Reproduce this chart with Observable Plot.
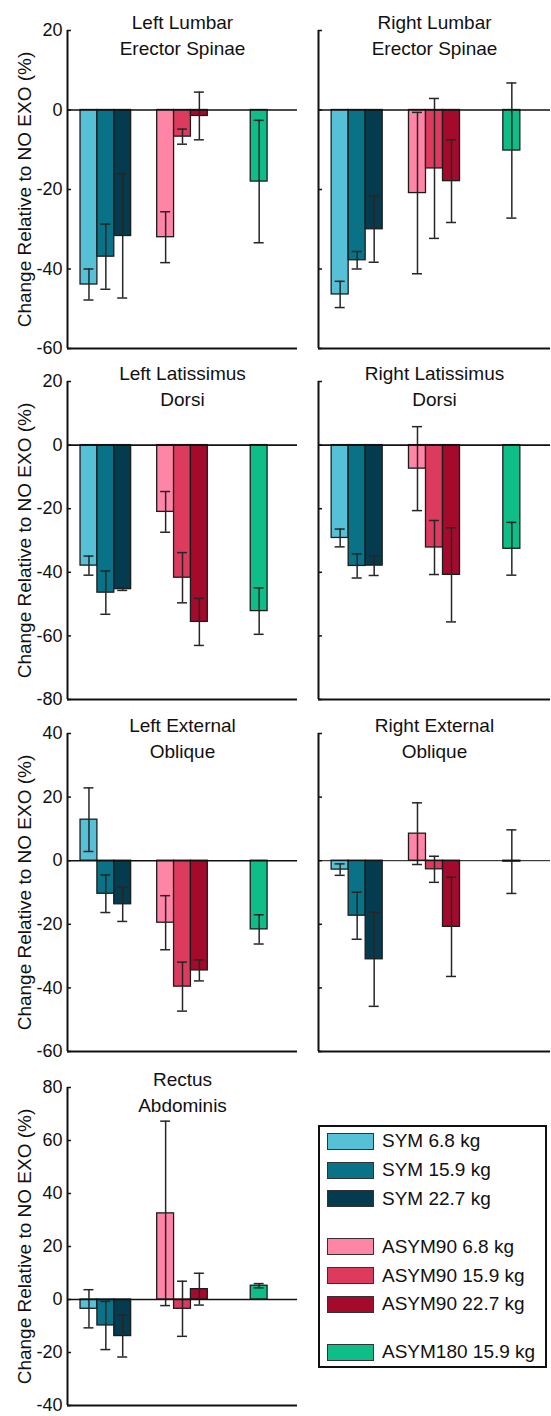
<!DOCTYPE html>
<html>
<head>
<meta charset="utf-8">
<script src="https://cdn.jsdelivr.net/npm/d3@7"></script>
<script src="https://cdn.jsdelivr.net/npm/@observablehq/plot@0.6"></script>
<style>
  body { margin: 0; background: #fff; }
  #fig { position: relative; width: 551px; height: 1416px; overflow: hidden;
         font-family: "Liberation Sans", Arial, sans-serif; color: #111; }
  .panel { position: absolute; }
  #legend { position: absolute; left: 318px; top: 1125px; width: 229px; height: 243px;
            box-sizing: border-box; border: 2px solid #111; padding: 0 0 0 7px; }
  .row { display: flex; align-items: center; height: 28.8px; font-size: 19px; white-space: nowrap; }
  .row.gap { margin-top: 19px; }
  .sw { width: 47px; height: 17px; box-sizing: border-box; border: 1.5px solid #333; margin-right: 8px; flex: none; }
</style>
</head>
<body>
<div id="fig"></div>
<script>
// Exoskeleton conditions (bar order within each muscle panel)
const conditions = ["SYM 6.8 kg", "SYM 15.9 kg", "SYM 22.7 kg",
                    "ASYM90 6.8 kg", "ASYM90 15.9 kg", "ASYM90 22.7 kg",
                    "ASYM180 15.9 kg"];
const conditionGroup = [1, 1, 1, 2, 2, 2, 3];      // lift type cluster
const conditionSlot  = [-1, 0, 1, -1, 0, 1, 0];    // position within cluster
const conditionColors = ["#56c0d6", "#0a7286", "#053b4f",
                         "#ff85a6", "#dc3b5e", "#a40a2c",
                         "#0ebd88"];

// Muscle panels
const muscles = ["Left Lumbar\nErector Spinae", "Right Lumbar\nErector Spinae",
                 "Left Latissimus\nDorsi", "Right Latissimus\nDorsi",
                 "Left External\nOblique", "Right External\nOblique",
                 "Rectus\nAbdominis"];
const yDomains = [[-60, 20], [-60, 20], [-80, 20], [-80, 20], [-60, 40], [-60, 40], [-40, 80]];

// Mean change relative to NO EXO (%) and error (±) per condition
const leftLumbarMean   = [-43.9, -36.9, -31.7, -32.0, -6.7, -1.5, -18.0];
const leftLumbarErr    = [3.9, 8.2, 15.6, 6.4, 1.9, 6.0, 15.4];
const rightLumbarMean  = [-46.4, -37.8, -30.0, -20.9, -14.7, -17.9, -10.2];
const rightLumbarErr   = [3.3, 2.2, 8.3, 20.3, 17.6, 10.4, 17.0];
const leftLatMean      = [-37.9, -46.4, -45.3, -21.0, -41.7, -55.6, -52.2];
const leftLatErr       = [3.0, 6.8, 0.4, 6.4, 7.9, 7.4, 7.3];
const rightLatMean     = [-29.2, -38.0, -37.9, -7.4, -32.2, -40.8, -32.6];
const rightLatErr      = [2.8, 3.8, 3.1, 13.2, 8.5, 14.8, 8.3];
const leftObliqueMean  = [12.9, -10.4, -13.7, -19.5, -39.6, -34.5, -21.6];
const leftObliqueErr   = [10.0, 5.9, 5.4, 8.5, 7.7, 3.3, 4.6];
const rightObliqueMean = [-2.8, -17.3, -31.0, 8.5, -2.7, -20.8, -0.3];
const rightObliqueErr  = [1.8, 7.4, 14.8, 9.7, 4.1, 15.6, 10.0];
const rectusMean       = [-3.5, -9.8, -13.8, 32.5, -3.5, 3.9, 5.2];
const rectusErr        = [7.2, 9.1, 7.9, 34.8, 10.4, 6.0, 0.8];

const panelMeans = [leftLumbarMean, rightLumbarMean, leftLatMean, rightLatMean,
                    leftObliqueMean, rightObliqueMean, rectusMean];
const panelErrs  = [leftLumbarErr, rightLumbarErr, leftLatErr, rightLatErr,
                    leftObliqueErr, rightObliqueErr, rectusErr];

const yLabel = "Change Relative to NO EXO (%)";
const font = '"Liberation Sans", Arial, sans-serif';
const ink = "#111";
const errInk = "#262626";
const barWidth = 0.22;   // in cluster units
const capHalf = 0.065;

const fig = document.getElementById("fig");

function panel(i) {
  const col = i % 2, row = Math.floor(i / 2);
  const rows = conditions.map((c, k) => {
    const x = conditionGroup[k] + conditionSlot[k] * barWidth;
    const m = panelMeans[i][k], e = panelErrs[i][k];
    return {condition: c, x, x1: x - barWidth / 2, x2: x + barWidth / 2,
            mean: m, lo: m - e, hi: m + e, c1: x - capHalf, c2: x + capHalf};
  });
  const [y0, y1] = yDomains[i];
  const ticks = d3.range(y0, y1 + 1, 20);
  const left = col === 0;
  const marks = [
    Plot.rectY(rows, {x1: "x1", x2: "x2", y1: 0, y2: "mean", fill: "condition",
                      stroke: "#1c1c1c", strokeWidth: 1.3}),
    Plot.ruleX(rows, {x: "x", y1: "lo", y2: "hi", stroke: errInk, strokeWidth: 1.5}),
    Plot.ruleY(rows, {y: "lo", x1: "c1", x2: "c2", stroke: errInk, strokeWidth: 1.5}),
    Plot.ruleY(rows, {y: "hi", x1: "c1", x2: "c2", stroke: errInk, strokeWidth: 1.5}),
    Plot.ruleY([0], {stroke: ink, strokeWidth: i === 5 ? 1 : 1.6}),
    Plot.ruleX([0.5], {stroke: ink, strokeWidth: 2}),
    Plot.ruleY([y0], {stroke: ink, strokeWidth: 2}),
    Plot.axisY(ticks, {tickSize: -4, tickPadding: 9, stroke: ink, strokeWidth: 1.5,
                       fill: ink, fontSize: 18, label: null,
                       tickFormat: left ? (d) => String(d) : () => ""}),
    Plot.text([muscles[i]], {frameAnchor: "top", lineAnchor: "top", dy: -20,
                             lineHeight: 1.37, fontSize: 19, fill: ink})
  ];
  if (left) {
    marks.push(Plot.text([yLabel], {frameAnchor: "left", textAnchor: "middle",
                                    rotate: -90, dx: -43, fontSize: 19, fill: ink}));
  }
  const svg = Plot.plot({
    width: left ? 297 : 251,
    height: 352,
    marginLeft: left ? 67 : 18,
    marginRight: left ? 0 : 1,
    marginTop: 30,
    marginBottom: 4,
    style: {fontFamily: font, fontSize: "18px", background: "transparent", overflow: "visible"},
    x: {domain: [0.5, 3.5], axis: null},
    y: {domain: [y0, y1], axis: null},
    color: {domain: conditions, range: conditionColors},
    marks
  });
  const tops = [0, 351, 703, 1057];
  const holder = document.createElement("div");
  holder.className = "panel";
  holder.style.left = (left ? 0 : 300) + "px";
  holder.style.top = tops[row] + "px";
  holder.appendChild(svg);
  fig.appendChild(holder);
}

for (let i = 0; i < muscles.length; i++) panel(i);

// Legend: clusters separated by a blank gap
const legend = document.createElement("div");
legend.id = "legend";
conditions.forEach((c, k) => {
  const r = document.createElement("div");
  r.className = "row" + (k > 0 && conditionGroup[k] !== conditionGroup[k - 1] ? " gap" : "");
  const sw = document.createElement("div");
  sw.className = "sw";
  sw.style.background = conditionColors[k];
  const t = document.createElement("span");
  t.textContent = c;
  r.appendChild(sw);
  r.appendChild(t);
  legend.appendChild(r);
});
fig.appendChild(legend);
</script>
</body>
</html>
